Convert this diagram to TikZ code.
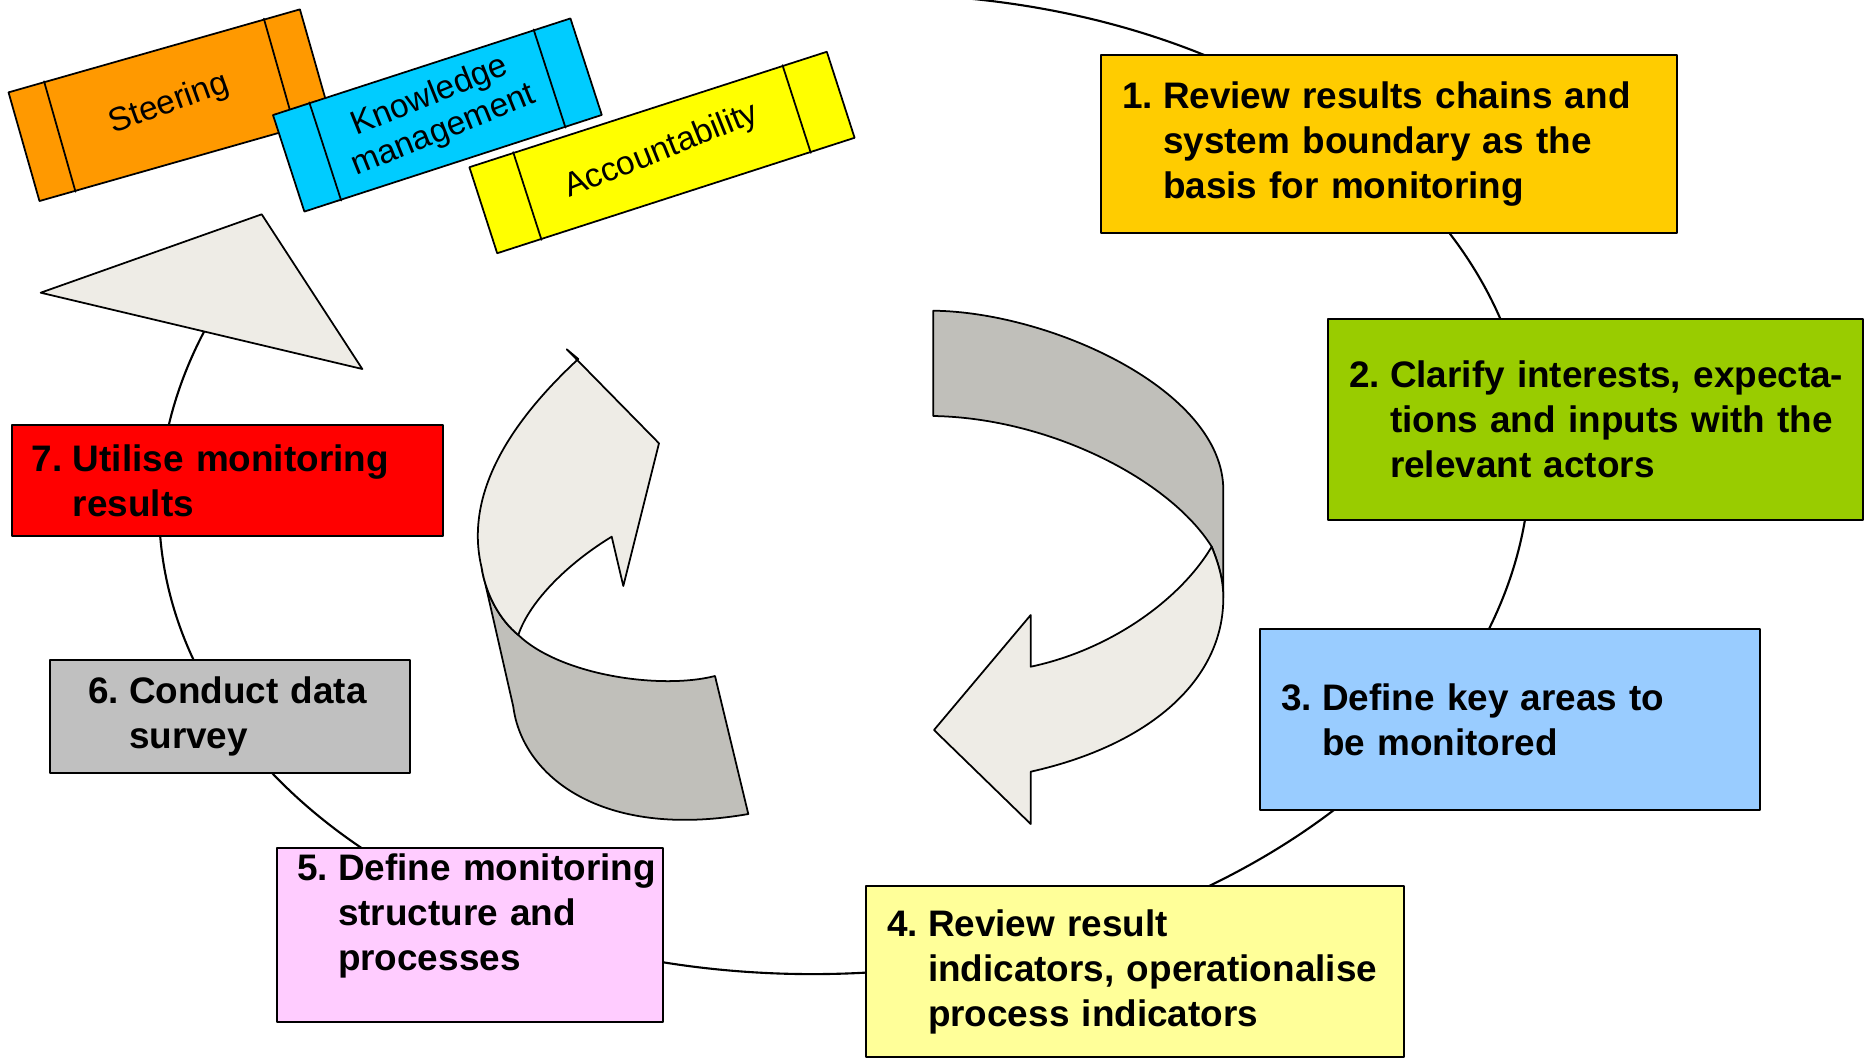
\documentclass[tikz,border=0pt]{standalone}
\usepackage{fontspec}
\setmainfont{Liberation Sans}
\usetikzlibrary{calc}
\definecolor{ffccqq}{rgb}{1.,0.8,0.}
\definecolor{99ccqq}{rgb}{0.6,0.8,0.}
\definecolor{99ccff}{rgb}{0.6,0.8,1.}
\definecolor{ffff99}{rgb}{1.,1.,0.6}
\definecolor{ffccff}{rgb}{1.,0.8,1.}
\definecolor{cqcqcq}{rgb}{0.7529411764705882,0.7529411764705882,0.7529411764705882}
\definecolor{ffqqqq}{rgb}{1.,0.,0.}
\definecolor{ff99qq}{rgb}{1.,0.6,0.}
\definecolor{qqccff}{rgb}{0.,0.8,1.}
\definecolor{ffffqq}{rgb}{1.,1.,0.}
\definecolor{eeece6}{rgb}{0.9333,0.9255,0.902}
\definecolor{cqbfba}{rgb}{0.7529,0.749,0.7294}
\newcommand{\stepitem}[3][0.21cm]{\parindent=0pt\leftskip=\dimexpr#1+0.41cm\relax\noindent\hspace*{-0.41cm}\makebox[0.41cm][l]{#2}#3\par\vskip-\prevdepth}
\newcommand{\tablabel}[1]{\rotatebox{4}{\begin{tabular}{@{}c@{}}#1\end{tabular}}}

\begin{document}
\begin{tikzpicture}[line cap=round,line join=round,x=1.0cm,y=1.0cm,
  stepbox/.style={draw,line width=0.7pt,text width=#1,inner xsep=0pt,inner ysep=0pt,align=left,font=\bfseries\fontsize{10.5}{12.8}\selectfont},
  tabbox/.style={draw,line width=0.5pt,inner sep=0pt,font=\fontsize{9.5}{10.5}\selectfont},
  ribbon/.style={draw,line width=0.5pt}]
\useasboundingbox (0.,0.) rectangle (18.65,10.61);
%\draw [color=cqcqcq, xstep=1.0cm,ystep=1.0cm] (0.,0.) grid (18.65,10.61);
% cycle from the top edge round to the arrow head
\draw [line width=0.6pt,rotate around={4.:(8.445,5.769)}] ($(8.445,5.769)+(78.:6.863cm and 4.888cm)$) arc [start angle=78.,end angle=-208.,x radius=6.863cm,y radius=4.888cm];
% arrow head under the tabs
\draw [ribbon,fill=eeece6] (0.407,7.683) -- (2.617,8.467) -- (3.623,6.92) -- cycle;
% tabs
\node [tabbox,fill=ff99qq,minimum width=3.03cm,minimum height=1.13cm,rotate=15.9] (steering) at (1.697,9.558) {\tablabel{Steering}};
\draw [line width=0.5pt] ($(steering.north west)!0.125!(steering.north east)$) -- ($(steering.south west)!0.125!(steering.south east)$);
\draw [line width=0.5pt] ($(steering.north east)!0.125!(steering.north west)$) -- ($(steering.south east)!0.125!(steering.south west)$);
\node [tabbox,fill=qqccff,minimum width=3.127cm,minimum height=1.015cm,rotate=18.] (knowledge) at (4.374,9.46) {\tablabel{Knowledge\\management}};
\draw [line width=0.5pt] ($(knowledge.north west)!0.125!(knowledge.north east)$) -- ($(knowledge.south west)!0.125!(knowledge.south east)$);
\draw [line width=0.5pt] ($(knowledge.north east)!0.125!(knowledge.north west)$) -- ($(knowledge.south east)!0.125!(knowledge.south west)$);
\node [tabbox,fill=ffffqq,minimum width=3.756cm,minimum height=0.904cm,rotate=17.9] (accountability) at (6.62,9.085) {\tablabel{Accountability}};
\draw [line width=0.5pt] ($(accountability.north west)!0.125!(accountability.north east)$) -- ($(accountability.south west)!0.125!(accountability.south east)$);
\draw [line width=0.5pt] ($(accountability.north east)!0.125!(accountability.north west)$) -- ($(accountability.south east)!0.125!(accountability.south west)$);
% left ribbon arrow
\draw [ribbon,fill=cqbfba] (4.817,4.93) -- (5.133,3.543) .. controls (5.22,2.86) and (6.00,2.21) .. (7.483,2.47) -- (7.15,3.85) .. controls (6.60,3.71) and (5.60,3.86) .. (5.183,4.26) .. controls (5.00,4.41) and (4.86,4.66) .. (4.817,4.93) -- cycle;
\draw [ribbon,fill=eeece6] (5.667,7.117) -- (6.59,6.177) -- (6.233,4.75) -- (6.117,5.243) .. controls (5.70,4.99) and (5.30,4.61) .. (5.183,4.26) .. controls (5.00,4.41) and (4.86,4.66) .. (4.817,4.93) .. controls (4.70,5.41) and (4.80,6.11) .. (5.783,7.02) -- cycle;
% right ribbon arrow
\draw [ribbon,fill=cqbfba] (9.333,7.503) .. controls (10.50,7.49) and (12.233,6.71) .. (12.233,5.71) -- (12.233,4.63) .. controls (12.233,4.81) and (12.19,4.96) .. (12.117,5.143) .. controls (11.70,5.81) and (10.50,6.43) .. (9.333,6.45) -- cycle;
\draw [ribbon,fill=eeece6] (12.117,5.143) .. controls (11.80,4.61) and (11.10,4.11) .. (10.307,3.943) -- (10.307,4.46) -- (9.34,3.31) -- (10.307,2.37) -- (10.307,2.893) .. controls (11.50,3.16) and (12.233,3.81) .. (12.233,4.63) .. controls (12.233,4.81) and (12.19,4.96) .. (12.117,5.143) -- cycle;
% steps
\node [stepbox=5.76cm,fill=ffccqq,minimum height=1.78cm] (step1) at (13.89,9.17) {\stepitem{1.}{Review results chains and\\system boundary as the\\basis for monitoring}};
\node [stepbox=5.35cm,fill=99ccqq,minimum height=2.01cm] (step2) at (15.955,6.415) {\stepitem{2.}{Clarify interests, expecta-\\tions and inputs with the\\relevant actors}};
\node [stepbox=5.cm,fill=99ccff,minimum height=1.81cm] (step3) at (15.10,3.415) {\stepitem{3.}{Define key areas to\\be monitored}};
\node [stepbox=5.38cm,fill=ffff99,minimum height=1.71cm] (step4) at (11.35,0.895) {\stepitem{4.}{Review result\\indicators, operationalise\\process indicators}};
\node [stepbox=3.86cm,fill=ffccff,minimum height=1.74cm] (step5) at (4.70,1.26) {\stepitem[0.20cm]{5.}{\mbox{Define monitoring}\\structure and\\processes\\\mbox{}}};
\node [stepbox=3.6cm,fill=cqcqcq,minimum height=1.13cm] (step6) at (2.30,3.445) {\stepitem[0.38cm]{6.}{Conduct data\\survey}};
\node [stepbox=4.31cm,fill=ffqqqq,minimum height=1.11cm] (step7) at (2.275,5.805) {\stepitem[0.20cm]{7.}{Utilise monitoring\\results}};
\end{tikzpicture}
\end{document}
